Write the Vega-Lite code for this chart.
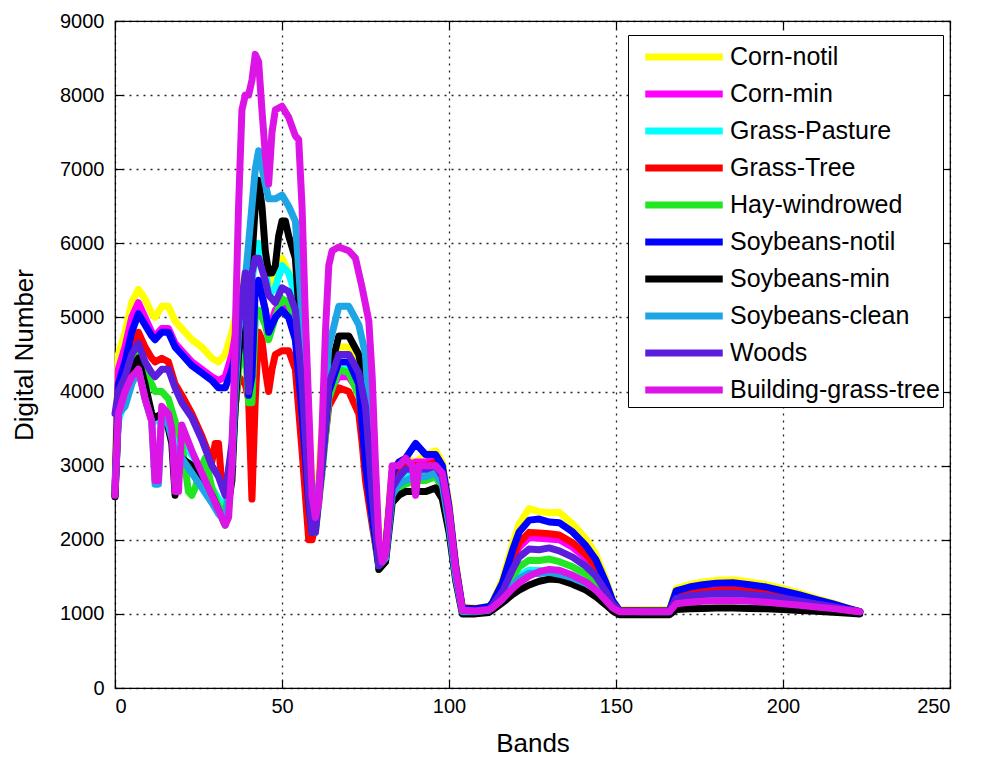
{
"$schema":"https://vega.github.io/schema/vega-lite/v6.json",
"width":835,"height":667,
"autosize":"none",
"padding":{"left":115,"top":21,"right":36,"bottom":76},
"background":"white",
"config":{"view":{"stroke":"#000","strokeWidth":1.2},"font":"Liberation Sans"},
"data":{"values":[
{"s":"Corn-notil","b":0,"v":3000},{"s":"Corn-notil","b":1,"v":4500},{"s":"Corn-notil","b":3,"v":4800},{"s":"Corn-notil","b":5,"v":5200},{"s":"Corn-notil","b":7,"v":5380},{"s":"Corn-notil","b":9,"v":5250},{"s":"Corn-notil","b":11,"v":5050},{"s":"Corn-notil","b":12,"v":5000},{"s":"Corn-notil","b":14,"v":5150},{"s":"Corn-notil","b":16,"v":5150},{"s":"Corn-notil","b":18,"v":4950},{"s":"Corn-notil","b":20,"v":4850},{"s":"Corn-notil","b":23,"v":4700},{"s":"Corn-notil","b":26,"v":4600},{"s":"Corn-notil","b":29,"v":4450},{"s":"Corn-notil","b":31,"v":4400},{"s":"Corn-notil","b":33,"v":4500},{"s":"Corn-notil","b":35,"v":4800},{"s":"Corn-notil","b":37,"v":5200},{"s":"Corn-notil","b":39,"v":5600},{"s":"Corn-notil","b":41,"v":5800},{"s":"Corn-notil","b":43,"v":6000},{"s":"Corn-notil","b":45,"v":5700},{"s":"Corn-notil","b":46,"v":5300},{"s":"Corn-notil","b":48,"v":5700},{"s":"Corn-notil","b":50,"v":5800},{"s":"Corn-notil","b":52,"v":5600},{"s":"Corn-notil","b":54,"v":5400},{"s":"Corn-notil","b":56,"v":4500},{"s":"Corn-notil","b":58,"v":3000},{"s":"Corn-notil","b":59,"v":2400},{"s":"Corn-notil","b":60,"v":2300},{"s":"Corn-notil","b":62,"v":3500},{"s":"Corn-notil","b":64,"v":4400},{"s":"Corn-notil","b":67,"v":4600},{"s":"Corn-notil","b":70,"v":4600},{"s":"Corn-notil","b":73,"v":4300},{"s":"Corn-notil","b":75,"v":3800},{"s":"Corn-notil","b":77,"v":2600},{"s":"Corn-notil","b":79,"v":1750},{"s":"Corn-notil","b":81,"v":2000},{"s":"Corn-notil","b":83,"v":2950},{"s":"Corn-notil","b":85,"v":3050},{"s":"Corn-notil","b":87,"v":3100},{"s":"Corn-notil","b":90,"v":3050},{"s":"Corn-notil","b":93,"v":3150},{"s":"Corn-notil","b":96,"v":3200},{"s":"Corn-notil","b":98,"v":3050},{"s":"Corn-notil","b":100,"v":2500},{"s":"Corn-notil","b":102,"v":1700},{"s":"Corn-notil","b":104,"v":1100},{"s":"Corn-notil","b":108,"v":1080},{"s":"Corn-notil","b":112,"v":1100},{"s":"Corn-notil","b":113,"v":1160},{"s":"Corn-notil","b":116,"v":1460},{"s":"Corn-notil","b":119,"v":1940},{"s":"Corn-notil","b":121,"v":2215},{"s":"Corn-notil","b":124,"v":2420},{"s":"Corn-notil","b":127,"v":2380},{"s":"Corn-notil","b":130,"v":2365},{"s":"Corn-notil","b":133,"v":2370},{"s":"Corn-notil","b":137,"v":2215},{"s":"Corn-notil","b":141,"v":2010},{"s":"Corn-notil","b":144,"v":1805},{"s":"Corn-notil","b":147,"v":1460},{"s":"Corn-notil","b":149,"v":1190},{"s":"Corn-notil","b":151,"v":1060},{"s":"Corn-notil","b":158,"v":1060},{"s":"Corn-notil","b":166,"v":1060},{"s":"Corn-notil","b":168,"v":1340},{"s":"Corn-notil","b":172,"v":1395},{"s":"Corn-notil","b":176,"v":1430},{"s":"Corn-notil","b":180,"v":1451},{"s":"Corn-notil","b":185,"v":1460},{"s":"Corn-notil","b":190,"v":1430},{"s":"Corn-notil","b":195,"v":1396},{"s":"Corn-notil","b":200,"v":1340},{"s":"Corn-notil","b":205,"v":1279},{"s":"Corn-notil","b":210,"v":1211},{"s":"Corn-notil","b":215,"v":1146},{"s":"Corn-notil","b":220,"v":1073},{"s":"Corn-notil","b":223,"v":1030},
{"s":"Corn-min","b":0,"v":2700},{"s":"Corn-min","b":1,"v":4300},{"s":"Corn-min","b":3,"v":4600},{"s":"Corn-min","b":5,"v":5000},{"s":"Corn-min","b":7,"v":5200},{"s":"Corn-min","b":9,"v":5000},{"s":"Corn-min","b":11,"v":4800},{"s":"Corn-min","b":12,"v":4750},{"s":"Corn-min","b":14,"v":4850},{"s":"Corn-min","b":16,"v":4850},{"s":"Corn-min","b":18,"v":4650},{"s":"Corn-min","b":20,"v":4550},{"s":"Corn-min","b":23,"v":4400},{"s":"Corn-min","b":26,"v":4300},{"s":"Corn-min","b":29,"v":4200},{"s":"Corn-min","b":31,"v":4150},{"s":"Corn-min","b":33,"v":4200},{"s":"Corn-min","b":35,"v":4500},{"s":"Corn-min","b":37,"v":5000},{"s":"Corn-min","b":39,"v":5300},{"s":"Corn-min","b":41,"v":5400},{"s":"Corn-min","b":43,"v":5500},{"s":"Corn-min","b":45,"v":5100},{"s":"Corn-min","b":46,"v":4800},{"s":"Corn-min","b":48,"v":5100},{"s":"Corn-min","b":50,"v":5200},{"s":"Corn-min","b":52,"v":5100},{"s":"Corn-min","b":54,"v":4900},{"s":"Corn-min","b":56,"v":4000},{"s":"Corn-min","b":58,"v":2800},{"s":"Corn-min","b":59,"v":2200},{"s":"Corn-min","b":60,"v":2200},{"s":"Corn-min","b":62,"v":3200},{"s":"Corn-min","b":64,"v":4000},{"s":"Corn-min","b":67,"v":4200},{"s":"Corn-min","b":70,"v":4200},{"s":"Corn-min","b":73,"v":4000},{"s":"Corn-min","b":75,"v":3500},{"s":"Corn-min","b":77,"v":2500},{"s":"Corn-min","b":79,"v":1700},{"s":"Corn-min","b":81,"v":1900},{"s":"Corn-min","b":83,"v":2800},{"s":"Corn-min","b":85,"v":2950},{"s":"Corn-min","b":87,"v":3000},{"s":"Corn-min","b":90,"v":3050},{"s":"Corn-min","b":93,"v":3050},{"s":"Corn-min","b":96,"v":3100},{"s":"Corn-min","b":98,"v":2950},{"s":"Corn-min","b":100,"v":2400},{"s":"Corn-min","b":102,"v":1650},{"s":"Corn-min","b":104,"v":1080},{"s":"Corn-min","b":108,"v":1060},{"s":"Corn-min","b":112,"v":1080},{"s":"Corn-min","b":113,"v":1130},{"s":"Corn-min","b":116,"v":1350},{"s":"Corn-min","b":119,"v":1700},{"s":"Corn-min","b":121,"v":1900},{"s":"Corn-min","b":124,"v":2030},{"s":"Corn-min","b":127,"v":2020},{"s":"Corn-min","b":130,"v":2010},{"s":"Corn-min","b":133,"v":2000},{"s":"Corn-min","b":137,"v":1900},{"s":"Corn-min","b":141,"v":1750},{"s":"Corn-min","b":144,"v":1600},{"s":"Corn-min","b":147,"v":1350},{"s":"Corn-min","b":149,"v":1150},{"s":"Corn-min","b":151,"v":1050},{"s":"Corn-min","b":158,"v":1040},{"s":"Corn-min","b":166,"v":1040},{"s":"Corn-min","b":168,"v":1260},{"s":"Corn-min","b":172,"v":1302},{"s":"Corn-min","b":176,"v":1328},{"s":"Corn-min","b":180,"v":1344},{"s":"Corn-min","b":185,"v":1350},{"s":"Corn-min","b":190,"v":1328},{"s":"Corn-min","b":195,"v":1302},{"s":"Corn-min","b":200,"v":1260},{"s":"Corn-min","b":205,"v":1216},{"s":"Corn-min","b":210,"v":1164},{"s":"Corn-min","b":215,"v":1116},{"s":"Corn-min","b":220,"v":1062},{"s":"Corn-min","b":223,"v":1030},
{"s":"Grass-Pasture","b":0,"v":2600},{"s":"Grass-Pasture","b":1,"v":3600},{"s":"Grass-Pasture","b":3,"v":3900},{"s":"Grass-Pasture","b":5,"v":4200},{"s":"Grass-Pasture","b":7,"v":4350},{"s":"Grass-Pasture","b":9,"v":4000},{"s":"Grass-Pasture","b":11,"v":3700},{"s":"Grass-Pasture","b":12,"v":3600},{"s":"Grass-Pasture","b":14,"v":3700},{"s":"Grass-Pasture","b":16,"v":3650},{"s":"Grass-Pasture","b":18,"v":3400},{"s":"Grass-Pasture","b":20,"v":3300},{"s":"Grass-Pasture","b":23,"v":3150},{"s":"Grass-Pasture","b":26,"v":2900},{"s":"Grass-Pasture","b":29,"v":2700},{"s":"Grass-Pasture","b":31,"v":2550},{"s":"Grass-Pasture","b":33,"v":2450},{"s":"Grass-Pasture","b":35,"v":3000},{"s":"Grass-Pasture","b":36,"v":3800},{"s":"Grass-Pasture","b":37,"v":4500},{"s":"Grass-Pasture","b":39,"v":5000},{"s":"Grass-Pasture","b":41,"v":5500},{"s":"Grass-Pasture","b":42,"v":5800},{"s":"Grass-Pasture","b":43,"v":6000},{"s":"Grass-Pasture","b":45,"v":5700},{"s":"Grass-Pasture","b":46,"v":5300},{"s":"Grass-Pasture","b":48,"v":5400},{"s":"Grass-Pasture","b":50,"v":5700},{"s":"Grass-Pasture","b":52,"v":5600},{"s":"Grass-Pasture","b":54,"v":5300},{"s":"Grass-Pasture","b":56,"v":4400},{"s":"Grass-Pasture","b":58,"v":2800},{"s":"Grass-Pasture","b":59,"v":2200},{"s":"Grass-Pasture","b":60,"v":2150},{"s":"Grass-Pasture","b":62,"v":3000},{"s":"Grass-Pasture","b":64,"v":3900},{"s":"Grass-Pasture","b":67,"v":4300},{"s":"Grass-Pasture","b":70,"v":4300},{"s":"Grass-Pasture","b":73,"v":4000},{"s":"Grass-Pasture","b":75,"v":3500},{"s":"Grass-Pasture","b":77,"v":2400},{"s":"Grass-Pasture","b":79,"v":1650},{"s":"Grass-Pasture","b":81,"v":1800},{"s":"Grass-Pasture","b":83,"v":2700},{"s":"Grass-Pasture","b":85,"v":2800},{"s":"Grass-Pasture","b":87,"v":2850},{"s":"Grass-Pasture","b":90,"v":2900},{"s":"Grass-Pasture","b":93,"v":2900},{"s":"Grass-Pasture","b":96,"v":2950},{"s":"Grass-Pasture","b":98,"v":2800},{"s":"Grass-Pasture","b":100,"v":2300},{"s":"Grass-Pasture","b":102,"v":1600},{"s":"Grass-Pasture","b":104,"v":1050},{"s":"Grass-Pasture","b":108,"v":1040},{"s":"Grass-Pasture","b":112,"v":1060},{"s":"Grass-Pasture","b":113,"v":1095},{"s":"Grass-Pasture","b":116,"v":1215},{"s":"Grass-Pasture","b":119,"v":1410},{"s":"Grass-Pasture","b":121,"v":1520},{"s":"Grass-Pasture","b":124,"v":1590},{"s":"Grass-Pasture","b":127,"v":1585},{"s":"Grass-Pasture","b":130,"v":1580},{"s":"Grass-Pasture","b":133,"v":1575},{"s":"Grass-Pasture","b":137,"v":1520},{"s":"Grass-Pasture","b":141,"v":1435},{"s":"Grass-Pasture","b":144,"v":1350},{"s":"Grass-Pasture","b":147,"v":1215},{"s":"Grass-Pasture","b":149,"v":1105},{"s":"Grass-Pasture","b":151,"v":1050},{"s":"Grass-Pasture","b":158,"v":1040},{"s":"Grass-Pasture","b":166,"v":1040},{"s":"Grass-Pasture","b":168,"v":1224},{"s":"Grass-Pasture","b":172,"v":1260},{"s":"Grass-Pasture","b":176,"v":1281},{"s":"Grass-Pasture","b":180,"v":1295},{"s":"Grass-Pasture","b":185,"v":1300},{"s":"Grass-Pasture","b":190,"v":1281},{"s":"Grass-Pasture","b":195,"v":1260},{"s":"Grass-Pasture","b":200,"v":1224},{"s":"Grass-Pasture","b":205,"v":1187},{"s":"Grass-Pasture","b":210,"v":1143},{"s":"Grass-Pasture","b":215,"v":1103},{"s":"Grass-Pasture","b":220,"v":1057},{"s":"Grass-Pasture","b":223,"v":1030},
{"s":"Grass-Tree","b":0,"v":2700},{"s":"Grass-Tree","b":1,"v":3800},{"s":"Grass-Tree","b":3,"v":4200},{"s":"Grass-Tree","b":5,"v":4600},{"s":"Grass-Tree","b":7,"v":4800},{"s":"Grass-Tree","b":9,"v":4600},{"s":"Grass-Tree","b":11,"v":4450},{"s":"Grass-Tree","b":12,"v":4400},{"s":"Grass-Tree","b":14,"v":4450},{"s":"Grass-Tree","b":16,"v":4400},{"s":"Grass-Tree","b":18,"v":4100},{"s":"Grass-Tree","b":20,"v":3950},{"s":"Grass-Tree","b":23,"v":3700},{"s":"Grass-Tree","b":26,"v":3400},{"s":"Grass-Tree","b":29,"v":3050},{"s":"Grass-Tree","b":30,"v":3300},{"s":"Grass-Tree","b":31,"v":3300},{"s":"Grass-Tree","b":32,"v":2750},{"s":"Grass-Tree","b":33,"v":2650},{"s":"Grass-Tree","b":35,"v":3200},{"s":"Grass-Tree","b":36,"v":3800},{"s":"Grass-Tree","b":37,"v":4200},{"s":"Grass-Tree","b":39,"v":4100},{"s":"Grass-Tree","b":40,"v":3900},{"s":"Grass-Tree","b":41,"v":2550},{"s":"Grass-Tree","b":42,"v":3900},{"s":"Grass-Tree","b":43,"v":4800},{"s":"Grass-Tree","b":44,"v":4700},{"s":"Grass-Tree","b":45,"v":4300},{"s":"Grass-Tree","b":46,"v":4000},{"s":"Grass-Tree","b":47,"v":4300},{"s":"Grass-Tree","b":48,"v":4500},{"s":"Grass-Tree","b":50,"v":4550},{"s":"Grass-Tree","b":52,"v":4550},{"s":"Grass-Tree","b":54,"v":4300},{"s":"Grass-Tree","b":56,"v":3200},{"s":"Grass-Tree","b":58,"v":2000},{"s":"Grass-Tree","b":59,"v":2000},{"s":"Grass-Tree","b":60,"v":2200},{"s":"Grass-Tree","b":62,"v":3000},{"s":"Grass-Tree","b":64,"v":3800},{"s":"Grass-Tree","b":67,"v":4050},{"s":"Grass-Tree","b":70,"v":4000},{"s":"Grass-Tree","b":73,"v":3700},{"s":"Grass-Tree","b":74,"v":3300},{"s":"Grass-Tree","b":75,"v":2800},{"s":"Grass-Tree","b":77,"v":2200},{"s":"Grass-Tree","b":79,"v":1650},{"s":"Grass-Tree","b":81,"v":1800},{"s":"Grass-Tree","b":83,"v":2800},{"s":"Grass-Tree","b":85,"v":2950},{"s":"Grass-Tree","b":87,"v":3000},{"s":"Grass-Tree","b":90,"v":3000},{"s":"Grass-Tree","b":93,"v":3000},{"s":"Grass-Tree","b":96,"v":3050},{"s":"Grass-Tree","b":98,"v":2900},{"s":"Grass-Tree","b":100,"v":2350},{"s":"Grass-Tree","b":102,"v":1600},{"s":"Grass-Tree","b":104,"v":1050},{"s":"Grass-Tree","b":108,"v":1050},{"s":"Grass-Tree","b":112,"v":1070},{"s":"Grass-Tree","b":113,"v":1135},{"s":"Grass-Tree","b":116,"v":1370},{"s":"Grass-Tree","b":119,"v":1745},{"s":"Grass-Tree","b":121,"v":1960},{"s":"Grass-Tree","b":124,"v":2100},{"s":"Grass-Tree","b":127,"v":2090},{"s":"Grass-Tree","b":130,"v":2080},{"s":"Grass-Tree","b":133,"v":2065},{"s":"Grass-Tree","b":137,"v":1960},{"s":"Grass-Tree","b":141,"v":1800},{"s":"Grass-Tree","b":144,"v":1640},{"s":"Grass-Tree","b":147,"v":1370},{"s":"Grass-Tree","b":149,"v":1155},{"s":"Grass-Tree","b":151,"v":1050},{"s":"Grass-Tree","b":158,"v":1040},{"s":"Grass-Tree","b":166,"v":1040},{"s":"Grass-Tree","b":168,"v":1239},{"s":"Grass-Tree","b":172,"v":1277},{"s":"Grass-Tree","b":176,"v":1300},{"s":"Grass-Tree","b":180,"v":1314},{"s":"Grass-Tree","b":185,"v":1320},{"s":"Grass-Tree","b":190,"v":1300},{"s":"Grass-Tree","b":195,"v":1277},{"s":"Grass-Tree","b":200,"v":1239},{"s":"Grass-Tree","b":205,"v":1198},{"s":"Grass-Tree","b":210,"v":1152},{"s":"Grass-Tree","b":215,"v":1108},{"s":"Grass-Tree","b":220,"v":1059},{"s":"Grass-Tree","b":223,"v":1030},
{"s":"Hay-windrowed","b":0,"v":2600},{"s":"Hay-windrowed","b":1,"v":3700},{"s":"Hay-windrowed","b":3,"v":4000},{"s":"Hay-windrowed","b":5,"v":4400},{"s":"Hay-windrowed","b":7,"v":4550},{"s":"Hay-windrowed","b":9,"v":4300},{"s":"Hay-windrowed","b":11,"v":4100},{"s":"Hay-windrowed","b":12,"v":4000},{"s":"Hay-windrowed","b":14,"v":4000},{"s":"Hay-windrowed","b":16,"v":3900},{"s":"Hay-windrowed","b":18,"v":3600},{"s":"Hay-windrowed","b":20,"v":3300},{"s":"Hay-windrowed","b":22,"v":2650},{"s":"Hay-windrowed","b":23,"v":2600},{"s":"Hay-windrowed","b":24,"v":2700},{"s":"Hay-windrowed","b":26,"v":3000},{"s":"Hay-windrowed","b":27,"v":3100},{"s":"Hay-windrowed","b":29,"v":2700},{"s":"Hay-windrowed","b":31,"v":2450},{"s":"Hay-windrowed","b":33,"v":2350},{"s":"Hay-windrowed","b":35,"v":3000},{"s":"Hay-windrowed","b":36,"v":3800},{"s":"Hay-windrowed","b":37,"v":4300},{"s":"Hay-windrowed","b":39,"v":4600},{"s":"Hay-windrowed","b":40,"v":3850},{"s":"Hay-windrowed","b":41,"v":3850},{"s":"Hay-windrowed","b":42,"v":5000},{"s":"Hay-windrowed","b":43,"v":5100},{"s":"Hay-windrowed","b":45,"v":4900},{"s":"Hay-windrowed","b":46,"v":4700},{"s":"Hay-windrowed","b":48,"v":5000},{"s":"Hay-windrowed","b":50,"v":5250},{"s":"Hay-windrowed","b":52,"v":5200},{"s":"Hay-windrowed","b":54,"v":4900},{"s":"Hay-windrowed","b":56,"v":4000},{"s":"Hay-windrowed","b":58,"v":2600},{"s":"Hay-windrowed","b":59,"v":2100},{"s":"Hay-windrowed","b":60,"v":2100},{"s":"Hay-windrowed","b":62,"v":2900},{"s":"Hay-windrowed","b":64,"v":3900},{"s":"Hay-windrowed","b":67,"v":4300},{"s":"Hay-windrowed","b":70,"v":4250},{"s":"Hay-windrowed","b":73,"v":3950},{"s":"Hay-windrowed","b":75,"v":3400},{"s":"Hay-windrowed","b":77,"v":2300},{"s":"Hay-windrowed","b":79,"v":1600},{"s":"Hay-windrowed","b":81,"v":1750},{"s":"Hay-windrowed","b":83,"v":2600},{"s":"Hay-windrowed","b":85,"v":2700},{"s":"Hay-windrowed","b":87,"v":2750},{"s":"Hay-windrowed","b":90,"v":2800},{"s":"Hay-windrowed","b":93,"v":2800},{"s":"Hay-windrowed","b":96,"v":2850},{"s":"Hay-windrowed","b":98,"v":2700},{"s":"Hay-windrowed","b":100,"v":2200},{"s":"Hay-windrowed","b":102,"v":1550},{"s":"Hay-windrowed","b":104,"v":1030},{"s":"Hay-windrowed","b":108,"v":1030},{"s":"Hay-windrowed","b":112,"v":1050},{"s":"Hay-windrowed","b":113,"v":1105},{"s":"Hay-windrowed","b":116,"v":1255},{"s":"Hay-windrowed","b":119,"v":1500},{"s":"Hay-windrowed","b":121,"v":1635},{"s":"Hay-windrowed","b":124,"v":1725},{"s":"Hay-windrowed","b":127,"v":1720},{"s":"Hay-windrowed","b":130,"v":1740},{"s":"Hay-windrowed","b":133,"v":1705},{"s":"Hay-windrowed","b":137,"v":1635},{"s":"Hay-windrowed","b":141,"v":1535},{"s":"Hay-windrowed","b":144,"v":1430},{"s":"Hay-windrowed","b":147,"v":1255},{"s":"Hay-windrowed","b":149,"v":1120},{"s":"Hay-windrowed","b":151,"v":1050},{"s":"Hay-windrowed","b":158,"v":1040},{"s":"Hay-windrowed","b":166,"v":1040},{"s":"Hay-windrowed","b":168,"v":1196},{"s":"Hay-windrowed","b":172,"v":1226},{"s":"Hay-windrowed","b":176,"v":1244},{"s":"Hay-windrowed","b":180,"v":1255},{"s":"Hay-windrowed","b":185,"v":1260},{"s":"Hay-windrowed","b":190,"v":1244},{"s":"Hay-windrowed","b":195,"v":1226},{"s":"Hay-windrowed","b":200,"v":1196},{"s":"Hay-windrowed","b":205,"v":1163},{"s":"Hay-windrowed","b":210,"v":1127},{"s":"Hay-windrowed","b":215,"v":1092},{"s":"Hay-windrowed","b":220,"v":1053},{"s":"Hay-windrowed","b":223,"v":1030},
{"s":"Soybeans-notil","b":0,"v":2600},{"s":"Soybeans-notil","b":1,"v":4100},{"s":"Soybeans-notil","b":3,"v":4400},{"s":"Soybeans-notil","b":5,"v":4800},{"s":"Soybeans-notil","b":7,"v":5050},{"s":"Soybeans-notil","b":9,"v":4900},{"s":"Soybeans-notil","b":11,"v":4750},{"s":"Soybeans-notil","b":12,"v":4700},{"s":"Soybeans-notil","b":14,"v":4800},{"s":"Soybeans-notil","b":16,"v":4800},{"s":"Soybeans-notil","b":18,"v":4600},{"s":"Soybeans-notil","b":20,"v":4500},{"s":"Soybeans-notil","b":23,"v":4350},{"s":"Soybeans-notil","b":26,"v":4250},{"s":"Soybeans-notil","b":29,"v":4150},{"s":"Soybeans-notil","b":31,"v":4050},{"s":"Soybeans-notil","b":33,"v":4050},{"s":"Soybeans-notil","b":35,"v":4300},{"s":"Soybeans-notil","b":36,"v":4500},{"s":"Soybeans-notil","b":37,"v":4700},{"s":"Soybeans-notil","b":39,"v":5000},{"s":"Soybeans-notil","b":40,"v":3950},{"s":"Soybeans-notil","b":41,"v":4200},{"s":"Soybeans-notil","b":42,"v":5400},{"s":"Soybeans-notil","b":43,"v":5500},{"s":"Soybeans-notil","b":45,"v":5100},{"s":"Soybeans-notil","b":46,"v":4800},{"s":"Soybeans-notil","b":48,"v":5000},{"s":"Soybeans-notil","b":50,"v":5100},{"s":"Soybeans-notil","b":52,"v":5000},{"s":"Soybeans-notil","b":54,"v":4700},{"s":"Soybeans-notil","b":56,"v":3700},{"s":"Soybeans-notil","b":58,"v":2500},{"s":"Soybeans-notil","b":59,"v":2100},{"s":"Soybeans-notil","b":60,"v":2150},{"s":"Soybeans-notil","b":62,"v":3000},{"s":"Soybeans-notil","b":64,"v":4000},{"s":"Soybeans-notil","b":67,"v":4400},{"s":"Soybeans-notil","b":70,"v":4400},{"s":"Soybeans-notil","b":73,"v":4100},{"s":"Soybeans-notil","b":75,"v":3000},{"s":"Soybeans-notil","b":77,"v":2300},{"s":"Soybeans-notil","b":79,"v":1650},{"s":"Soybeans-notil","b":81,"v":1850},{"s":"Soybeans-notil","b":83,"v":2900},{"s":"Soybeans-notil","b":85,"v":3050},{"s":"Soybeans-notil","b":87,"v":3100},{"s":"Soybeans-notil","b":90,"v":3300},{"s":"Soybeans-notil","b":93,"v":3150},{"s":"Soybeans-notil","b":96,"v":3150},{"s":"Soybeans-notil","b":98,"v":3000},{"s":"Soybeans-notil","b":100,"v":2450},{"s":"Soybeans-notil","b":102,"v":1650},{"s":"Soybeans-notil","b":104,"v":1080},{"s":"Soybeans-notil","b":108,"v":1070},{"s":"Soybeans-notil","b":112,"v":1100},{"s":"Soybeans-notil","b":113,"v":1150},{"s":"Soybeans-notil","b":116,"v":1420},{"s":"Soybeans-notil","b":119,"v":1855},{"s":"Soybeans-notil","b":121,"v":2105},{"s":"Soybeans-notil","b":124,"v":2265},{"s":"Soybeans-notil","b":127,"v":2280},{"s":"Soybeans-notil","b":130,"v":2240},{"s":"Soybeans-notil","b":133,"v":2230},{"s":"Soybeans-notil","b":137,"v":2105},{"s":"Soybeans-notil","b":141,"v":1920},{"s":"Soybeans-notil","b":144,"v":1730},{"s":"Soybeans-notil","b":147,"v":1420},{"s":"Soybeans-notil","b":149,"v":1175},{"s":"Soybeans-notil","b":151,"v":1050},{"s":"Soybeans-notil","b":158,"v":1040},{"s":"Soybeans-notil","b":166,"v":1040},{"s":"Soybeans-notil","b":168,"v":1311},{"s":"Soybeans-notil","b":172,"v":1362},{"s":"Soybeans-notil","b":176,"v":1393},{"s":"Soybeans-notil","b":180,"v":1412},{"s":"Soybeans-notil","b":185,"v":1420},{"s":"Soybeans-notil","b":190,"v":1393},{"s":"Soybeans-notil","b":195,"v":1362},{"s":"Soybeans-notil","b":200,"v":1311},{"s":"Soybeans-notil","b":205,"v":1256},{"s":"Soybeans-notil","b":210,"v":1194},{"s":"Soybeans-notil","b":215,"v":1135},{"s":"Soybeans-notil","b":220,"v":1069},{"s":"Soybeans-notil","b":223,"v":1030},
{"s":"Soybeans-min","b":0,"v":2580},{"s":"Soybeans-min","b":1,"v":3700},{"s":"Soybeans-min","b":3,"v":4000},{"s":"Soybeans-min","b":5,"v":4300},{"s":"Soybeans-min","b":7,"v":4450},{"s":"Soybeans-min","b":9,"v":4100},{"s":"Soybeans-min","b":11,"v":3700},{"s":"Soybeans-min","b":12,"v":3650},{"s":"Soybeans-min","b":14,"v":3700},{"s":"Soybeans-min","b":16,"v":3500},{"s":"Soybeans-min","b":17,"v":3300},{"s":"Soybeans-min","b":18,"v":2600},{"s":"Soybeans-min","b":19,"v":3150},{"s":"Soybeans-min","b":20,"v":3100},{"s":"Soybeans-min","b":23,"v":3000},{"s":"Soybeans-min","b":26,"v":2800},{"s":"Soybeans-min","b":29,"v":2600},{"s":"Soybeans-min","b":31,"v":2400},{"s":"Soybeans-min","b":33,"v":2200},{"s":"Soybeans-min","b":35,"v":2800},{"s":"Soybeans-min","b":36,"v":3800},{"s":"Soybeans-min","b":37,"v":4500},{"s":"Soybeans-min","b":39,"v":5200},{"s":"Soybeans-min","b":41,"v":5800},{"s":"Soybeans-min","b":42,"v":6500},{"s":"Soybeans-min","b":43,"v":6850},{"s":"Soybeans-min","b":44,"v":6500},{"s":"Soybeans-min","b":45,"v":5900},{"s":"Soybeans-min","b":46,"v":5600},{"s":"Soybeans-min","b":47,"v":5600},{"s":"Soybeans-min","b":48,"v":5700},{"s":"Soybeans-min","b":49,"v":6100},{"s":"Soybeans-min","b":50,"v":6300},{"s":"Soybeans-min","b":51,"v":6300},{"s":"Soybeans-min","b":52,"v":6100},{"s":"Soybeans-min","b":54,"v":5800},{"s":"Soybeans-min","b":56,"v":4500},{"s":"Soybeans-min","b":58,"v":2800},{"s":"Soybeans-min","b":59,"v":2200},{"s":"Soybeans-min","b":60,"v":2200},{"s":"Soybeans-min","b":62,"v":3100},{"s":"Soybeans-min","b":64,"v":4200},{"s":"Soybeans-min","b":67,"v":4750},{"s":"Soybeans-min","b":70,"v":4750},{"s":"Soybeans-min","b":73,"v":4500},{"s":"Soybeans-min","b":75,"v":4000},{"s":"Soybeans-min","b":77,"v":2800},{"s":"Soybeans-min","b":79,"v":1600},{"s":"Soybeans-min","b":81,"v":1700},{"s":"Soybeans-min","b":83,"v":2500},{"s":"Soybeans-min","b":85,"v":2600},{"s":"Soybeans-min","b":87,"v":2650},{"s":"Soybeans-min","b":90,"v":2650},{"s":"Soybeans-min","b":93,"v":2650},{"s":"Soybeans-min","b":96,"v":2700},{"s":"Soybeans-min","b":98,"v":2550},{"s":"Soybeans-min","b":100,"v":2100},{"s":"Soybeans-min","b":102,"v":1450},{"s":"Soybeans-min","b":104,"v":1000},{"s":"Soybeans-min","b":108,"v":1000},{"s":"Soybeans-min","b":112,"v":1020},{"s":"Soybeans-min","b":113,"v":1050},{"s":"Soybeans-min","b":116,"v":1150},{"s":"Soybeans-min","b":119,"v":1260},{"s":"Soybeans-min","b":121,"v":1320},{"s":"Soybeans-min","b":124,"v":1390},{"s":"Soybeans-min","b":127,"v":1440},{"s":"Soybeans-min","b":130,"v":1470},{"s":"Soybeans-min","b":133,"v":1460},{"s":"Soybeans-min","b":137,"v":1400},{"s":"Soybeans-min","b":141,"v":1320},{"s":"Soybeans-min","b":144,"v":1230},{"s":"Soybeans-min","b":147,"v":1120},{"s":"Soybeans-min","b":149,"v":1040},{"s":"Soybeans-min","b":151,"v":990},{"s":"Soybeans-min","b":158,"v":990},{"s":"Soybeans-min","b":166,"v":990},{"s":"Soybeans-min","b":168,"v":1058},{"s":"Soybeans-min","b":172,"v":1068},{"s":"Soybeans-min","b":176,"v":1074},{"s":"Soybeans-min","b":180,"v":1078},{"s":"Soybeans-min","b":185,"v":1080},{"s":"Soybeans-min","b":190,"v":1074},{"s":"Soybeans-min","b":195,"v":1068},{"s":"Soybeans-min","b":200,"v":1058},{"s":"Soybeans-min","b":205,"v":1046},{"s":"Soybeans-min","b":210,"v":1034},{"s":"Soybeans-min","b":215,"v":1022},{"s":"Soybeans-min","b":220,"v":1008},{"s":"Soybeans-min","b":223,"v":1000},
{"s":"Soybeans-clean","b":0,"v":2700},{"s":"Soybeans-clean","b":1,"v":3700},{"s":"Soybeans-clean","b":3,"v":3800},{"s":"Soybeans-clean","b":5,"v":4100},{"s":"Soybeans-clean","b":7,"v":4300},{"s":"Soybeans-clean","b":9,"v":3900},{"s":"Soybeans-clean","b":11,"v":3600},{"s":"Soybeans-clean","b":12,"v":2750},{"s":"Soybeans-clean","b":13,"v":2750},{"s":"Soybeans-clean","b":14,"v":3700},{"s":"Soybeans-clean","b":16,"v":3550},{"s":"Soybeans-clean","b":18,"v":3200},{"s":"Soybeans-clean","b":20,"v":3100},{"s":"Soybeans-clean","b":23,"v":2900},{"s":"Soybeans-clean","b":26,"v":2700},{"s":"Soybeans-clean","b":29,"v":2500},{"s":"Soybeans-clean","b":31,"v":2350},{"s":"Soybeans-clean","b":33,"v":2250},{"s":"Soybeans-clean","b":35,"v":3000},{"s":"Soybeans-clean","b":36,"v":4000},{"s":"Soybeans-clean","b":37,"v":4800},{"s":"Soybeans-clean","b":39,"v":5500},{"s":"Soybeans-clean","b":41,"v":6500},{"s":"Soybeans-clean","b":42,"v":7000},{"s":"Soybeans-clean","b":43,"v":7250},{"s":"Soybeans-clean","b":45,"v":6800},{"s":"Soybeans-clean","b":46,"v":6600},{"s":"Soybeans-clean","b":48,"v":6600},{"s":"Soybeans-clean","b":50,"v":6650},{"s":"Soybeans-clean","b":52,"v":6500},{"s":"Soybeans-clean","b":54,"v":6300},{"s":"Soybeans-clean","b":56,"v":5000},{"s":"Soybeans-clean","b":58,"v":3000},{"s":"Soybeans-clean","b":59,"v":2200},{"s":"Soybeans-clean","b":60,"v":2200},{"s":"Soybeans-clean","b":62,"v":3200},{"s":"Soybeans-clean","b":64,"v":4600},{"s":"Soybeans-clean","b":67,"v":5150},{"s":"Soybeans-clean","b":70,"v":5150},{"s":"Soybeans-clean","b":73,"v":4900},{"s":"Soybeans-clean","b":75,"v":4500},{"s":"Soybeans-clean","b":77,"v":3000},{"s":"Soybeans-clean","b":79,"v":1650},{"s":"Soybeans-clean","b":81,"v":1750},{"s":"Soybeans-clean","b":83,"v":2600},{"s":"Soybeans-clean","b":85,"v":2750},{"s":"Soybeans-clean","b":87,"v":2800},{"s":"Soybeans-clean","b":90,"v":2850},{"s":"Soybeans-clean","b":93,"v":2850},{"s":"Soybeans-clean","b":96,"v":2900},{"s":"Soybeans-clean","b":98,"v":2750},{"s":"Soybeans-clean","b":100,"v":2200},{"s":"Soybeans-clean","b":102,"v":1500},{"s":"Soybeans-clean","b":104,"v":1030},{"s":"Soybeans-clean","b":108,"v":1030},{"s":"Soybeans-clean","b":112,"v":1050},{"s":"Soybeans-clean","b":113,"v":1090},{"s":"Soybeans-clean","b":116,"v":1200},{"s":"Soybeans-clean","b":119,"v":1380},{"s":"Soybeans-clean","b":121,"v":1480},{"s":"Soybeans-clean","b":124,"v":1550},{"s":"Soybeans-clean","b":127,"v":1545},{"s":"Soybeans-clean","b":130,"v":1560},{"s":"Soybeans-clean","b":133,"v":1535},{"s":"Soybeans-clean","b":137,"v":1485},{"s":"Soybeans-clean","b":141,"v":1410},{"s":"Soybeans-clean","b":144,"v":1330},{"s":"Soybeans-clean","b":147,"v":1200},{"s":"Soybeans-clean","b":149,"v":1100},{"s":"Soybeans-clean","b":151,"v":1040},{"s":"Soybeans-clean","b":158,"v":1030},{"s":"Soybeans-clean","b":166,"v":1030},{"s":"Soybeans-clean","b":168,"v":1167},{"s":"Soybeans-clean","b":172,"v":1192},{"s":"Soybeans-clean","b":176,"v":1207},{"s":"Soybeans-clean","b":180,"v":1216},{"s":"Soybeans-clean","b":185,"v":1220},{"s":"Soybeans-clean","b":190,"v":1207},{"s":"Soybeans-clean","b":195,"v":1192},{"s":"Soybeans-clean","b":200,"v":1167},{"s":"Soybeans-clean","b":205,"v":1140},{"s":"Soybeans-clean","b":210,"v":1110},{"s":"Soybeans-clean","b":215,"v":1081},{"s":"Soybeans-clean","b":220,"v":1049},{"s":"Soybeans-clean","b":223,"v":1030},
{"s":"Woods","b":0,"v":3700},{"s":"Woods","b":1,"v":4000},{"s":"Woods","b":3,"v":4200},{"s":"Woods","b":5,"v":4500},{"s":"Woods","b":7,"v":4650},{"s":"Woods","b":9,"v":4400},{"s":"Woods","b":11,"v":4250},{"s":"Woods","b":12,"v":4200},{"s":"Woods","b":14,"v":4300},{"s":"Woods","b":16,"v":4300},{"s":"Woods","b":18,"v":4050},{"s":"Woods","b":20,"v":3850},{"s":"Woods","b":23,"v":3650},{"s":"Woods","b":26,"v":3350},{"s":"Woods","b":29,"v":3000},{"s":"Woods","b":31,"v":2850},{"s":"Woods","b":33,"v":2600},{"s":"Woods","b":35,"v":3300},{"s":"Woods","b":36,"v":4200},{"s":"Woods","b":37,"v":4900},{"s":"Woods","b":39,"v":5600},{"s":"Woods","b":40,"v":4000},{"s":"Woods","b":41,"v":5600},{"s":"Woods","b":42,"v":5800},{"s":"Woods","b":43,"v":5800},{"s":"Woods","b":45,"v":5500},{"s":"Woods","b":46,"v":5300},{"s":"Woods","b":48,"v":5200},{"s":"Woods","b":50,"v":5400},{"s":"Woods","b":52,"v":5350},{"s":"Woods","b":54,"v":5100},{"s":"Woods","b":56,"v":4100},{"s":"Woods","b":58,"v":2600},{"s":"Woods","b":59,"v":2100},{"s":"Woods","b":60,"v":2100},{"s":"Woods","b":62,"v":3000},{"s":"Woods","b":64,"v":4100},{"s":"Woods","b":67,"v":4500},{"s":"Woods","b":70,"v":4500},{"s":"Woods","b":73,"v":4250},{"s":"Woods","b":75,"v":3800},{"s":"Woods","b":77,"v":2600},{"s":"Woods","b":79,"v":1650},{"s":"Woods","b":81,"v":1800},{"s":"Woods","b":83,"v":2700},{"s":"Woods","b":85,"v":2850},{"s":"Woods","b":87,"v":2950},{"s":"Woods","b":90,"v":2950},{"s":"Woods","b":93,"v":2950},{"s":"Woods","b":96,"v":3000},{"s":"Woods","b":98,"v":2850},{"s":"Woods","b":100,"v":2300},{"s":"Woods","b":102,"v":1600},{"s":"Woods","b":104,"v":1050},{"s":"Woods","b":108,"v":1040},{"s":"Woods","b":112,"v":1060},{"s":"Woods","b":113,"v":1115},{"s":"Woods","b":116,"v":1300},{"s":"Woods","b":119,"v":1595},{"s":"Woods","b":121,"v":1765},{"s":"Woods","b":124,"v":1875},{"s":"Woods","b":127,"v":1865},{"s":"Woods","b":130,"v":1890},{"s":"Woods","b":133,"v":1850},{"s":"Woods","b":137,"v":1765},{"s":"Woods","b":141,"v":1640},{"s":"Woods","b":144,"v":1510},{"s":"Woods","b":147,"v":1300},{"s":"Woods","b":149,"v":1135},{"s":"Woods","b":151,"v":1050},{"s":"Woods","b":158,"v":1040},{"s":"Woods","b":166,"v":1040},{"s":"Woods","b":168,"v":1210},{"s":"Woods","b":172,"v":1243},{"s":"Woods","b":176,"v":1263},{"s":"Woods","b":180,"v":1275},{"s":"Woods","b":185,"v":1280},{"s":"Woods","b":190,"v":1263},{"s":"Woods","b":195,"v":1243},{"s":"Woods","b":200,"v":1210},{"s":"Woods","b":205,"v":1175},{"s":"Woods","b":210,"v":1135},{"s":"Woods","b":215,"v":1098},{"s":"Woods","b":220,"v":1055},{"s":"Woods","b":223,"v":1030},
{"s":"Building-grass-tree","b":0,"v":2600},{"s":"Building-grass-tree","b":1,"v":3700},{"s":"Building-grass-tree","b":3,"v":4000},{"s":"Building-grass-tree","b":5,"v":4200},{"s":"Building-grass-tree","b":7,"v":4300},{"s":"Building-grass-tree","b":9,"v":3900},{"s":"Building-grass-tree","b":11,"v":3600},{"s":"Building-grass-tree","b":12,"v":2800},{"s":"Building-grass-tree","b":13,"v":2800},{"s":"Building-grass-tree","b":14,"v":3800},{"s":"Building-grass-tree","b":16,"v":3700},{"s":"Building-grass-tree","b":17,"v":3500},{"s":"Building-grass-tree","b":18,"v":2650},{"s":"Building-grass-tree","b":19,"v":2650},{"s":"Building-grass-tree","b":20,"v":3550},{"s":"Building-grass-tree","b":23,"v":3200},{"s":"Building-grass-tree","b":26,"v":2900},{"s":"Building-grass-tree","b":29,"v":2600},{"s":"Building-grass-tree","b":31,"v":2400},{"s":"Building-grass-tree","b":33,"v":2200},{"s":"Building-grass-tree","b":34,"v":2300},{"s":"Building-grass-tree","b":35,"v":3000},{"s":"Building-grass-tree","b":36,"v":4800},{"s":"Building-grass-tree","b":37,"v":6500},{"s":"Building-grass-tree","b":38,"v":7800},{"s":"Building-grass-tree","b":39,"v":8000},{"s":"Building-grass-tree","b":40,"v":8000},{"s":"Building-grass-tree","b":41,"v":8200},{"s":"Building-grass-tree","b":42,"v":8550},{"s":"Building-grass-tree","b":43,"v":8450},{"s":"Building-grass-tree","b":44,"v":7800},{"s":"Building-grass-tree","b":45,"v":7200},{"s":"Building-grass-tree","b":46,"v":6800},{"s":"Building-grass-tree","b":47,"v":7500},{"s":"Building-grass-tree","b":48,"v":7800},{"s":"Building-grass-tree","b":50,"v":7850},{"s":"Building-grass-tree","b":52,"v":7700},{"s":"Building-grass-tree","b":54,"v":7450},{"s":"Building-grass-tree","b":55,"v":7400},{"s":"Building-grass-tree","b":56,"v":6500},{"s":"Building-grass-tree","b":57,"v":5000},{"s":"Building-grass-tree","b":58,"v":3800},{"s":"Building-grass-tree","b":59,"v":2600},{"s":"Building-grass-tree","b":60,"v":2300},{"s":"Building-grass-tree","b":61,"v":2500},{"s":"Building-grass-tree","b":62,"v":3500},{"s":"Building-grass-tree","b":63,"v":4800},{"s":"Building-grass-tree","b":64,"v":5700},{"s":"Building-grass-tree","b":65,"v":5900},{"s":"Building-grass-tree","b":67,"v":5950},{"s":"Building-grass-tree","b":70,"v":5900},{"s":"Building-grass-tree","b":72,"v":5800},{"s":"Building-grass-tree","b":74,"v":5400},{"s":"Building-grass-tree","b":76,"v":4950},{"s":"Building-grass-tree","b":77,"v":4200},{"s":"Building-grass-tree","b":78,"v":3000},{"s":"Building-grass-tree","b":79,"v":2000},{"s":"Building-grass-tree","b":80,"v":1700},{"s":"Building-grass-tree","b":81,"v":1800},{"s":"Building-grass-tree","b":82,"v":2400},{"s":"Building-grass-tree","b":83,"v":3000},{"s":"Building-grass-tree","b":85,"v":3000},{"s":"Building-grass-tree","b":87,"v":3100},{"s":"Building-grass-tree","b":89,"v":3000},{"s":"Building-grass-tree","b":90,"v":2600},{"s":"Building-grass-tree","b":91,"v":3000},{"s":"Building-grass-tree","b":93,"v":3000},{"s":"Building-grass-tree","b":96,"v":3000},{"s":"Building-grass-tree","b":98,"v":2900},{"s":"Building-grass-tree","b":100,"v":2400},{"s":"Building-grass-tree","b":102,"v":1600},{"s":"Building-grass-tree","b":104,"v":1050},{"s":"Building-grass-tree","b":108,"v":1040},{"s":"Building-grass-tree","b":112,"v":1060},{"s":"Building-grass-tree","b":113,"v":1080},{"s":"Building-grass-tree","b":116,"v":1200},{"s":"Building-grass-tree","b":119,"v":1340},{"s":"Building-grass-tree","b":121,"v":1420},{"s":"Building-grass-tree","b":124,"v":1510},{"s":"Building-grass-tree","b":127,"v":1570},{"s":"Building-grass-tree","b":130,"v":1600},{"s":"Building-grass-tree","b":133,"v":1590},{"s":"Building-grass-tree","b":137,"v":1520},{"s":"Building-grass-tree","b":141,"v":1430},{"s":"Building-grass-tree","b":144,"v":1320},{"s":"Building-grass-tree","b":147,"v":1180},{"s":"Building-grass-tree","b":149,"v":1080},{"s":"Building-grass-tree","b":151,"v":1030},{"s":"Building-grass-tree","b":158,"v":1030},{"s":"Building-grass-tree","b":166,"v":1030},{"s":"Building-grass-tree","b":168,"v":1138},{"s":"Building-grass-tree","b":172,"v":1158},{"s":"Building-grass-tree","b":176,"v":1170},{"s":"Building-grass-tree","b":180,"v":1177},{"s":"Building-grass-tree","b":185,"v":1180},{"s":"Building-grass-tree","b":190,"v":1170},{"s":"Building-grass-tree","b":195,"v":1158},{"s":"Building-grass-tree","b":200,"v":1138},{"s":"Building-grass-tree","b":205,"v":1117},{"s":"Building-grass-tree","b":210,"v":1093},{"s":"Building-grass-tree","b":215,"v":1071},{"s":"Building-grass-tree","b":220,"v":1045},{"s":"Building-grass-tree","b":223,"v":1030}
]},
"encoding":{
 "x":{"field":"b","type":"quantitative","scale":{"domain":[0,250],"nice":false,"zero":false},"axis":null},
 "y":{"field":"v","type":"quantitative","scale":{"domain":[0,9000],"nice":false},"axis":null},
 "color":{"field":"s","type":"nominal",
  "scale":{"domain":["Corn-notil","Corn-min","Grass-Pasture","Grass-Tree","Hay-windrowed","Soybeans-notil","Soybeans-min","Soybeans-clean","Woods","Building-grass-tree"],
           "range":["#FFFF00","#FF00FF","#00FFFF","#FF0000","#22E622","#0000FF","#000000","#1EA5E6","#5A1EDC","#DC14E6"]},
  "legend":{"title":null,"orient":"none","legendX":513,"legendY":14,"direction":"vertical","fillColor":"white","strokeColor":"#000","padding":3,
    "symbolType":"M-2.5,0L2.5,0","symbolSize":961,"symbolStrokeWidth":7,"symbolOffset":34,"labelOffset":27,"rowPadding":4,
    "labelFont":"Liberation Sans","labelFontSize":25,"labelColor":"#000","labelLimit":400}}
},
"layer":[
 {"transform":[{"filter":"datum.s==='Corn-notil'"}],"mark":{"type":"line","strokeWidth":7,"strokeJoin":"round","strokeCap":"round"},
  "encoding":{
   "x":{"field":"b","type":"quantitative","scale":{"domain":[0,250],"nice":false,"zero":false},
     "axis":{"orient":"bottom","values":[0,50,100,150,200,250],"format":"d","grid":true,"gridColor":"#000","gridDash":[2,5],"gridWidth":1.3,"gridOpacity":0.85,"domain":false,"tickSize":-8,"tickColor":"#000","tickWidth":1.2,"labelFont":"Liberation Sans","labelFontSize":20,"labelColor":"#000","labelPadding":16,"title":"Bands","titleFont":"Liberation Sans","titleFontSize":26,"titleFontWeight":"normal","titleColor":"#000","titlePadding":14}},
   "y":{"field":"v","type":"quantitative","scale":{"domain":[0,9000],"nice":false},
     "axis":{"orient":"left","values":[0,1000,2000,3000,4000,5000,6000,7000,8000,9000],"format":"d","grid":true,"gridColor":"#000","gridDash":[2,5],"gridWidth":1.3,"gridOpacity":0.85,"domain":false,"tickSize":-8,"tickColor":"#000","tickWidth":1.2,"labelFont":"Liberation Sans","labelFontSize":20,"labelColor":"#000","labelPadding":19,"title":"Digital Number","titleFont":"Liberation Sans","titleFontSize":26,"titleFontWeight":"normal","titleColor":"#000","titlePadding":22}}}},
 {"transform":[{"filter":"datum.s==='Corn-min'"}],"mark":{"type":"line","strokeWidth":7,"strokeJoin":"round","strokeCap":"round"},
  "encoding":{
   "x":{"field":"b","type":"quantitative","scale":{"domain":[0,250],"nice":false,"zero":false},
     "axis":{"orient":"top","values":[0,50,100,150,200,250],"grid":false,"domain":false,"labels":false,"tickSize":-8,"tickColor":"#000","tickWidth":1.2,"title":null}},
   "y":{"field":"v","type":"quantitative","scale":{"domain":[0,9000],"nice":false},
     "axis":{"orient":"right","values":[0,1000,2000,3000,4000,5000,6000,7000,8000,9000],"grid":false,"domain":false,"labels":false,"tickSize":-8,"tickColor":"#000","tickWidth":1.2,"title":null}}}},
 {"transform":[{"filter":"datum.s==='Grass-Pasture'"}],"mark":{"type":"line","strokeWidth":7,"strokeJoin":"round","strokeCap":"round"}},
 {"transform":[{"filter":"datum.s==='Grass-Tree'"}],"mark":{"type":"line","strokeWidth":7,"strokeJoin":"round","strokeCap":"round"}},
 {"transform":[{"filter":"datum.s==='Hay-windrowed'"}],"mark":{"type":"line","strokeWidth":7,"strokeJoin":"round","strokeCap":"round"}},
 {"transform":[{"filter":"datum.s==='Soybeans-notil'"}],"mark":{"type":"line","strokeWidth":7,"strokeJoin":"round","strokeCap":"round"}},
 {"transform":[{"filter":"datum.s==='Soybeans-min'"}],"mark":{"type":"line","strokeWidth":7,"strokeJoin":"round","strokeCap":"round"}},
 {"transform":[{"filter":"datum.s==='Soybeans-clean'"}],"mark":{"type":"line","strokeWidth":7,"strokeJoin":"round","strokeCap":"round"}},
 {"transform":[{"filter":"datum.s==='Woods'"}],"mark":{"type":"line","strokeWidth":7,"strokeJoin":"round","strokeCap":"round"}},
 {"transform":[{"filter":"datum.s==='Building-grass-tree'"}],"mark":{"type":"line","strokeWidth":7,"strokeJoin":"round","strokeCap":"round"}}
],
"resolve":{"axis":{"x":"independent","y":"independent"}}
}
